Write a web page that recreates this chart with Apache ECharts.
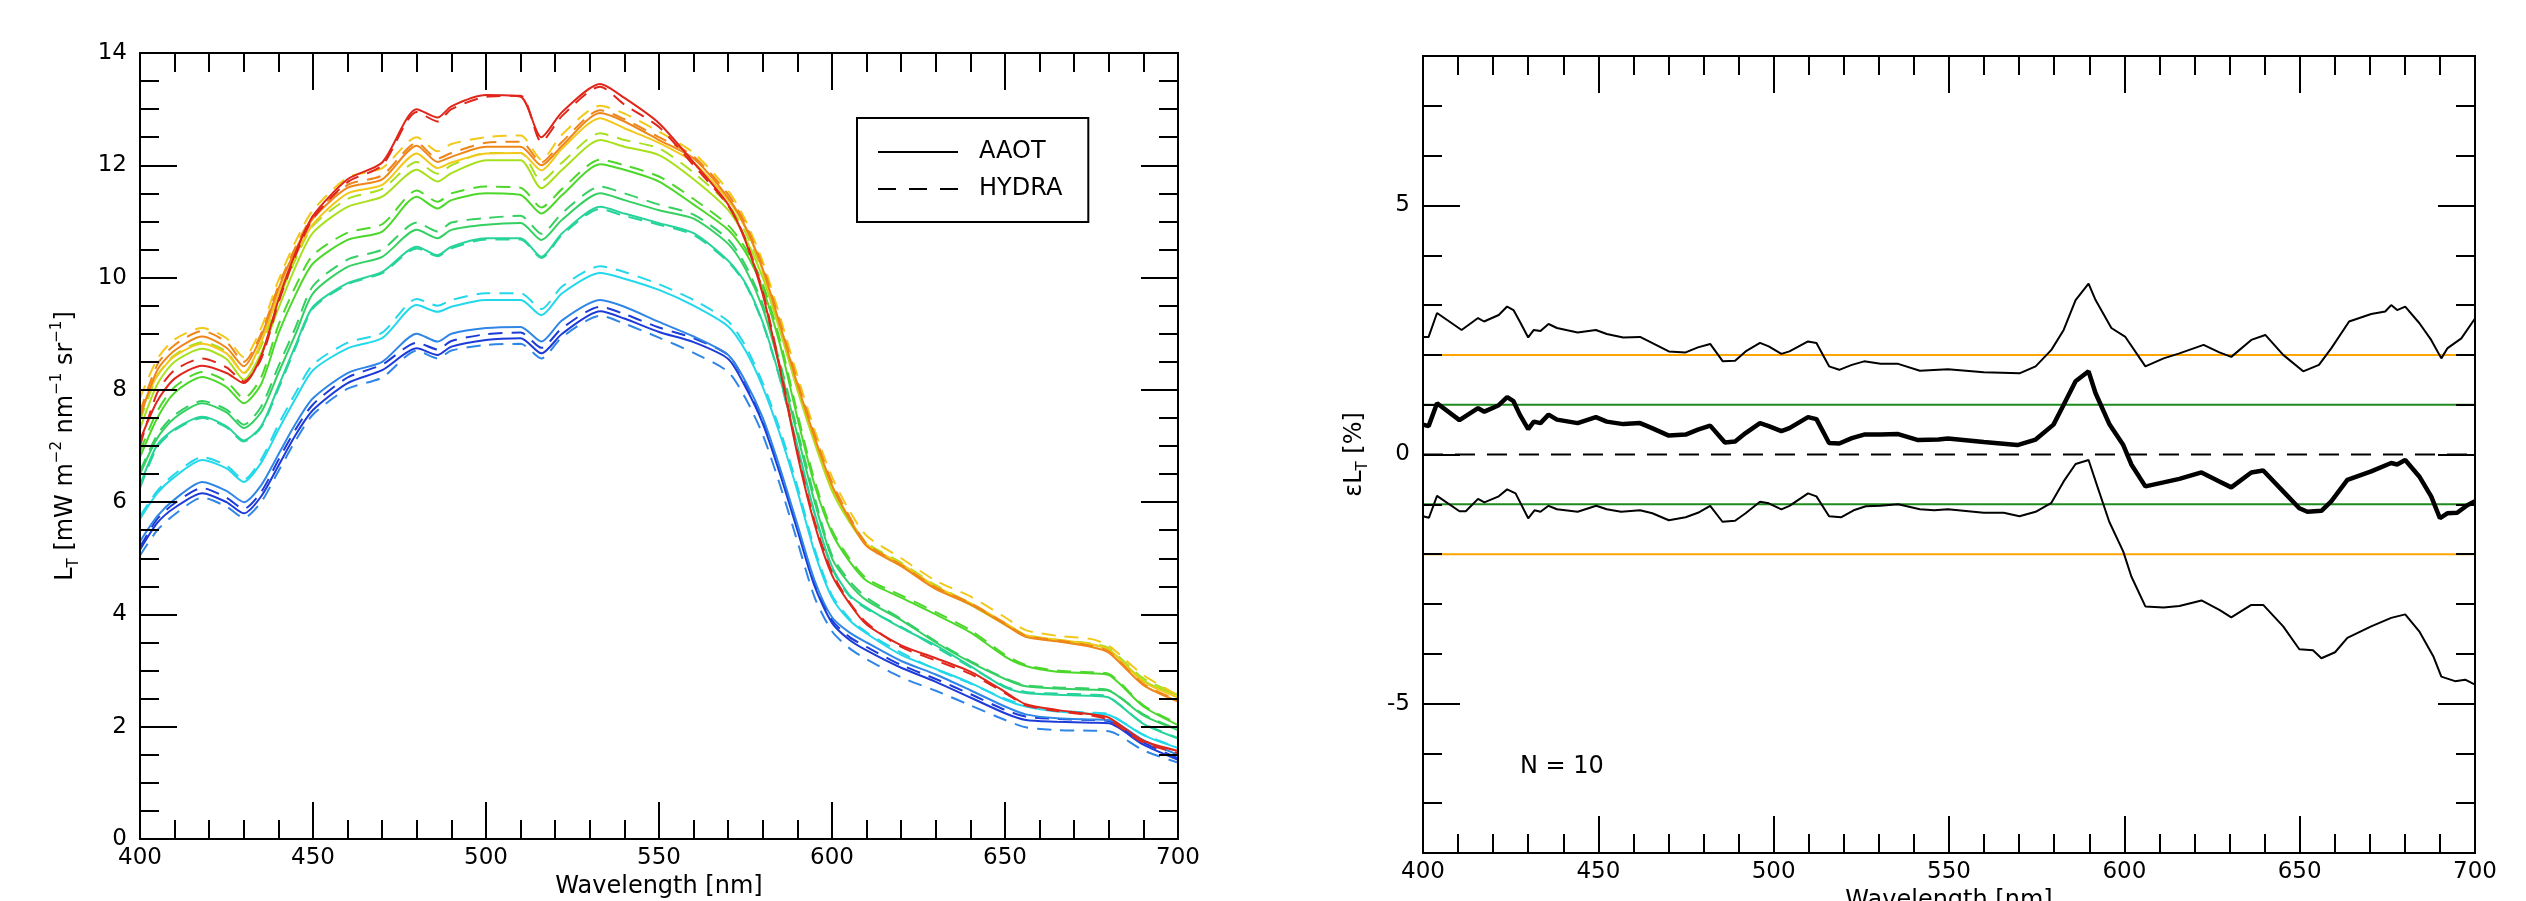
<!DOCTYPE html>
<html>
<head>
<meta charset="utf-8">
<title>AAOT / HYDRA L_T</title>
<script src="https://cdn.jsdelivr.net/npm/echarts@6.0.0/dist/echarts.min.js"></script>
<style>
    html, body { margin: 0; padding: 0; background: #fff; }
    #chart { width: 2526px; height: 901px; }
</style>
</head>
<body>
<div id="chart"></div>
<script>
var FONT = "DejaVu Sans";

// wavelength grid of the L_T spectra [nm]
var wl = [400, 405, 410, 418, 425, 430, 435, 440, 445, 450,
    460, 470, 480, 486, 490, 500, 510, 516, 522, 533,
    540, 550, 560, 570, 575, 580, 585, 590, 595, 600,
    605, 610, 620, 630, 640, 650, 656, 665, 675, 680,
    690, 700];

// L_T, AAOT (solid) and HYDRA (dashed), one pair per measurement
var redAaot = [7.1, 7.8, 8.2, 8.43, 8.3, 8.12, 8.6, 9.6, 10.45, 11.1,
    11.75, 12.05, 13.0, 12.85, 13.05, 13.25, 13.22, 12.5, 12.95, 13.45,
    13.2, 12.75, 12.05, 11.3, 10.65, 9.7, 8.35, 6.85, 5.6, 4.7,
    4.2, 3.82, 3.45, 3.22, 2.98, 2.62, 2.4, 2.3, 2.22, 2.16,
    1.75, 1.57];
var redHydra = [7.0, 7.95, 8.35, 8.56, 8.4, 8.15, 8.55, 9.55, 10.4, 11.05,
    11.7, 12.0, 12.95, 12.78, 13.0, 13.22, 13.24, 12.42, 12.88, 13.4,
    13.08, 12.68, 12.0, 11.28, 10.68, 9.75, 8.4, 6.9, 5.65, 4.75,
    4.22, 3.85, 3.42, 3.18, 2.94, 2.6, 2.38, 2.28, 2.2, 2.12,
    1.72, 1.53];
var orangeAaot = [7.5, 8.35, 8.7, 8.95, 8.75, 8.42, 8.95, 9.8, 10.5, 11.05,
    11.6, 11.75, 12.35, 12.06, 12.15, 12.33, 12.33, 12.0, 12.35, 12.93,
    12.78, 12.45, 12.12, 11.42, 10.9, 10.15, 9.15, 8.1, 7.15, 6.3,
    5.7, 5.22, 4.86, 4.45, 4.18, 3.82, 3.6, 3.52, 3.42, 3.32,
    2.74, 2.45];
var orangeHydra = [7.6, 8.45, 8.8, 9.05, 8.85, 8.5, 9.0, 9.85, 10.55, 11.1,
    11.65, 11.82, 12.4, 12.12, 12.22, 12.4, 12.42, 12.05, 12.42, 12.98,
    12.82, 12.5, 12.16, 11.48, 10.95, 10.2, 9.2, 8.15, 7.2, 6.35,
    5.75, 5.26, 4.88, 4.48, 4.2, 3.84, 3.62, 3.54, 3.44, 3.34,
    2.76, 2.47];
var yellowAaot = [7.6, 8.25, 8.6, 8.82, 8.65, 8.3, 8.85, 9.7, 10.4, 10.95,
    11.5, 11.65, 12.21, 11.95, 12.05, 12.21, 12.22, 11.91, 12.3, 12.84,
    12.66, 12.4, 12.05, 11.38, 10.88, 10.12, 9.12, 8.07, 7.12, 6.28,
    5.72, 5.25, 4.9, 4.5, 4.2, 3.85, 3.63, 3.55, 3.47, 3.37,
    2.8, 2.52];
var yellowHydra = [7.85, 8.55, 8.9, 9.1, 8.92, 8.58, 9.1, 9.95, 10.65, 11.2,
    11.78, 11.95, 12.5, 12.25, 12.38, 12.5, 12.53, 12.1, 12.55, 13.06,
    12.92, 12.6, 12.22, 11.55, 11.02, 10.28, 9.3, 8.25, 7.28, 6.45,
    5.85, 5.4, 5.0, 4.6, 4.32, 3.95, 3.72, 3.62, 3.56, 3.44,
    2.92, 2.56];
var limeAaot = [7.3, 8.1, 8.5, 8.73, 8.55, 8.18, 8.65, 9.45, 10.2, 10.8,
    11.26, 11.44, 11.92, 11.71, 11.86, 12.09, 12.09, 11.59, 11.92, 12.45,
    12.33, 12.18, 11.75, 11.2, 10.7, 10.0, 9.05, 8.0, 7.05, 6.2,
    5.65, 5.24, 4.88, 4.48, 4.17, 3.82, 3.61, 3.53, 3.46, 3.38,
    2.82, 2.56];
var limeHydra = [7.45, 8.25, 8.62, 8.85, 8.68, 8.3, 8.78, 9.6, 10.33, 10.92,
    11.4, 11.58, 12.06, 11.85, 12.0, 12.22, 12.22, 11.72, 12.05, 12.57,
    12.45, 12.3, 11.87, 11.3, 10.8, 10.1, 9.15, 8.1, 7.12, 6.26,
    5.7, 5.28, 4.92, 4.52, 4.2, 3.84, 3.64, 3.55, 3.48, 3.4,
    2.86, 2.58];
var greenAaot = [6.8, 7.5, 7.95, 8.23, 8.05, 7.76, 8.1, 9.0, 9.7, 10.25,
    10.67, 10.82, 11.44, 11.23, 11.38, 11.5, 11.47, 11.14, 11.47, 12.02,
    11.92, 11.71, 11.3, 10.85, 10.45, 9.8, 8.8, 7.5, 6.3, 5.45,
    4.95, 4.6, 4.3, 4.0, 3.68, 3.25, 3.08, 2.98, 2.95, 2.92,
    2.36, 2.03];
var greenHydra = [6.9, 7.62, 8.05, 8.32, 8.15, 7.85, 8.22, 9.15, 9.85, 10.4,
    10.8, 10.95, 11.55, 11.35, 11.5, 11.62, 11.6, 11.25, 11.58, 12.1,
    12.0, 11.8, 11.4, 10.93, 10.52, 9.88, 8.88, 7.58, 6.38, 5.5,
    5.0, 4.64, 4.34, 4.04, 3.72, 3.28, 3.1, 3.0, 2.97, 2.94,
    2.38, 2.05];
var green2Aaot = [6.5, 7.14, 7.5, 7.76, 7.6, 7.32, 7.6, 8.3, 9.0, 9.72,
    10.19, 10.37, 10.85, 10.7, 10.85, 10.94, 10.97, 10.67, 11.03, 11.5,
    11.38, 11.2, 11.05, 10.6, 10.15, 9.45, 8.4, 7.2, 6.0, 5.0,
    4.55, 4.25, 3.9, 3.5, 3.15, 2.85, 2.72, 2.68, 2.66, 2.64,
    2.2, 1.94];
var green2Hydra = [6.55, 7.2, 7.55, 7.8, 7.65, 7.38, 7.7, 8.42, 9.12, 9.85,
    10.32, 10.5, 10.98, 10.82, 10.98, 11.06, 11.1, 10.78, 11.15, 11.62,
    11.5, 11.3, 11.12, 10.68, 10.22, 9.52, 8.48, 7.28, 6.08, 5.05,
    4.6, 4.3, 3.92, 3.52, 3.17, 2.86, 2.74, 2.7, 2.68, 2.65,
    2.22, 1.95];
var tealAaot = [6.3, 7.02, 7.3, 7.52, 7.35, 7.1, 7.35, 8.06, 8.8, 9.48,
    9.9, 10.1, 10.55, 10.4, 10.55, 10.7, 10.7, 10.37, 10.79, 11.26,
    11.14, 10.97, 10.79, 10.3, 9.9, 9.2, 8.2, 7.0, 5.8, 4.85,
    4.35, 4.12, 3.76, 3.45, 3.08, 2.7, 2.6, 2.57, 2.55, 2.52,
    2.05, 1.79];
var tealHydra = [6.25, 6.98, 7.28, 7.5, 7.33, 7.08, 7.33, 8.02, 8.76, 9.45,
    9.88, 10.08, 10.52, 10.38, 10.52, 10.68, 10.68, 10.35, 10.76, 11.22,
    11.1, 10.94, 10.76, 10.28, 9.88, 9.18, 8.18, 6.98, 5.78, 4.82,
    4.33, 4.1, 3.78, 3.42, 3.06, 2.72, 2.62, 2.59, 2.57, 2.53,
    2.06, 1.8];
var cyanAaot = [5.7, 6.16, 6.45, 6.75, 6.6, 6.36, 6.7, 7.29, 7.85, 8.35,
    8.74, 8.92, 9.51, 9.39, 9.48, 9.6, 9.6, 9.33, 9.72, 10.08,
    9.98, 9.78, 9.5, 9.13, 8.7, 8.05, 7.2, 6.2, 5.1, 4.3,
    3.9, 3.66, 3.28, 3.03, 2.78, 2.48, 2.36, 2.27, 2.23, 2.21,
    1.85, 1.62];
var cyanHydra = [5.75, 6.2, 6.5, 6.8, 6.65, 6.4, 6.76, 7.38, 7.95, 8.45,
    8.84, 9.02, 9.62, 9.5, 9.6, 9.72, 9.72, 9.44, 9.84, 10.2,
    10.1, 9.88, 9.6, 9.22, 8.78, 8.12, 7.28, 6.28, 5.16, 4.34,
    3.93, 3.68, 3.32, 3.02, 2.77, 2.5, 2.38, 2.29, 2.25, 2.22,
    1.86, 1.63];
var lightBlueAaot = [5.3, 5.75, 6.05, 6.36, 6.2, 6.0, 6.3, 6.85, 7.4, 7.85,
    8.3, 8.5, 9.0, 8.86, 9.0, 9.1, 9.12, 8.86, 9.24, 9.6,
    9.48, 9.21, 8.95, 8.62, 8.15, 7.5, 6.6, 5.6, 4.6, 3.95,
    3.68, 3.5, 3.17, 2.93, 2.65, 2.36, 2.22, 2.15, 2.13, 2.12,
    1.76, 1.5];
var lightBlueHydra = [5.05, 5.5, 5.78, 6.08, 5.92, 5.72, 6.0, 6.55, 7.1, 7.56,
    8.02, 8.22, 8.7, 8.56, 8.7, 8.8, 8.82, 8.56, 8.94, 9.32,
    9.18, 8.93, 8.66, 8.32, 7.85, 7.2, 6.3, 5.3, 4.3, 3.7,
    3.4, 3.2, 2.88, 2.64, 2.38, 2.12, 1.99, 1.94, 1.93, 1.92,
    1.58, 1.36];
var darkBlueAaot = [5.15, 5.63, 5.9, 6.16, 6.0, 5.8, 6.1, 6.65, 7.2, 7.64,
    8.12, 8.35, 8.74, 8.62, 8.77, 8.89, 8.92, 8.65, 9.0, 9.4,
    9.27, 9.03, 8.85, 8.55, 8.05, 7.4, 6.5, 5.5, 4.5, 3.85,
    3.55, 3.36, 3.05, 2.8, 2.52, 2.24, 2.12, 2.09, 2.07, 2.06,
    1.68, 1.41];
var darkBlueHydra = [5.2, 5.7, 5.98, 6.25, 6.08, 5.88, 6.18, 6.75, 7.3, 7.74,
    8.22, 8.45, 8.84, 8.72, 8.87, 8.99, 9.02, 8.75, 9.1, 9.48,
    9.35, 9.11, 8.92, 8.62, 8.12, 7.46, 6.56, 5.56, 4.56, 3.9,
    3.6, 3.42, 3.1, 2.85, 2.58, 2.3, 2.18, 2.14, 2.12, 2.1,
    1.72, 1.44];

// relative difference eps L_T [%]: upper / mean / lower curves
var upWl = [400, 401.6, 404, 411, 415.7, 417.4, 421.6, 424, 425.8, 427.6,
    430, 431.6, 433.5, 435.8, 438.2, 444.1, 449.3, 452.4, 457.1, 461.9,
    465.3, 470.1, 474.9, 478.4, 481.9, 485.5, 489, 492, 496.1, 498.6,
    502.2, 504.5, 509.8, 512.2, 515.8, 518.7, 522.3, 525.8, 530.5, 535.5,
    541.7, 549.7, 559.9, 570.1, 574.7, 579.2, 582.7, 586.1, 589.8, 591.8,
    596.3, 600.3, 606, 611.2, 615.7, 622.6, 627.1, 630.5, 636.2, 640.2,
    645.3, 651, 655.5, 659, 664.1, 670.4, 674.4, 676.1, 677.8, 680.1,
    684.1, 687.5, 690.4, 692.1, 696.1, 700];
var errUp = [2.36, 2.36, 2.84, 2.5, 2.74, 2.67, 2.8, 2.97, 2.9, 2.67,
    2.35, 2.5, 2.48, 2.62, 2.54, 2.45, 2.5, 2.42, 2.35, 2.36,
    2.24, 2.07, 2.05, 2.15, 2.22, 1.87, 1.88, 2.07, 2.24, 2.17,
    2.02, 2.07, 2.27, 2.24, 1.77, 1.70, 1.80, 1.87, 1.82, 1.82,
    1.68, 1.71, 1.65, 1.63, 1.77, 2.1, 2.5, 3.1, 3.43, 3.1,
    2.54, 2.36, 1.77, 1.93, 2.03, 2.2, 2.05, 1.96, 2.3, 2.4,
    2.0, 1.67, 1.80, 2.13, 2.67, 2.82, 2.87, 3.0, 2.9, 2.97,
    2.64, 2.3, 1.93, 2.13, 2.33, 2.73];

var meanWl = [400, 401.6, 404, 410.4, 415.7, 417.5, 421.6, 424, 425.8, 427.6,
    430, 431.6, 433.5, 435.8, 438.2, 444.1, 449.3, 452.4, 457.1, 461.9,
    465.3, 470.1, 474.9, 478.4, 481.9, 486.1, 489, 492, 496.1, 498.6,
    502.2, 504.5, 509.8, 512.2, 515.8, 518.7, 522.3, 525.8, 530.5, 535.5,
    541.2, 547, 549.7, 559.9, 569.5, 574.7, 579.8, 582.7, 586.1, 589.8,
    591.8, 595.8, 599.7, 602, 606, 611.2, 615.7, 622, 627.1, 630.5,
    636.2, 639.6, 645.3, 649.9, 652.2, 656.2, 659, 663.6, 670.4, 676.1,
    677.8, 680.1, 684.1, 687.5, 690, 692.1, 694.9, 697.8, 700];
var errMean = [0.6, 0.57, 1.03, 0.69, 0.93, 0.86, 0.99, 1.15, 1.07, 0.8,
    0.51, 0.66, 0.63, 0.8, 0.7, 0.63, 0.75, 0.66, 0.61, 0.63,
    0.53, 0.38, 0.4, 0.5, 0.58, 0.24, 0.26, 0.43, 0.63, 0.57,
    0.47, 0.53, 0.75, 0.71, 0.23, 0.22, 0.33, 0.4, 0.4, 0.41,
    0.29, 0.3, 0.32, 0.25, 0.19, 0.3, 0.6, 1.0, 1.47, 1.67,
    1.23, 0.6, 0.19, -0.2, -0.64, -0.56, -0.49, -0.36, -0.54, -0.66,
    -0.36, -0.32, -0.74, -1.08, -1.15, -1.13, -0.94, -0.51, -0.34, -0.17,
    -0.2, -0.11, -0.44, -0.84, -1.28, -1.18, -1.17, -1.02, -0.94];

var lowWl = [400, 401.7, 404, 410.4, 412.2, 415.7, 417.5, 421.6, 424, 426.4,
    430, 431.8, 433.5, 435.8, 438.2, 444.1, 449.4, 452.4, 456.5, 461.9,
    465.4, 470.1, 474.9, 478.4, 481.9, 485.4, 489, 492, 496.1, 498.6,
    502.2, 504.5, 509.8, 512.2, 515.8, 519.2, 522.8, 526.3, 530.4, 535.5,
    541.7, 545.8, 549.7, 559.9, 565.6, 570.1, 574.7, 579.2, 582.7, 586.1,
    589.8, 592.3, 595.7, 599.7, 602, 606, 611.2, 615.7, 622, 627.1,
    630.5, 636.2, 639.6, 645.3, 649.9, 653.8, 656.2, 660.1, 663.6, 670.4,
    676.1, 680.1, 684.1, 688.1, 690.4, 694.3, 697.2, 700];
var errLow = [-1.24, -1.27, -0.83, -1.14, -1.14, -0.89, -0.96, -0.84, -0.70, -0.78,
    -1.28, -1.12, -1.15, -1.03, -1.1, -1.15, -1.03, -1.1, -1.15, -1.12,
    -1.18, -1.32, -1.26, -1.17, -1.03, -1.35, -1.33, -1.18, -0.95, -0.98,
    -1.1, -1.03, -0.78, -0.84, -1.24, -1.26, -1.12, -1.04, -1.03, -1.0,
    -1.1, -1.12, -1.1, -1.17, -1.17, -1.24, -1.15, -0.97, -0.54, -0.19,
    -0.11, -0.64, -1.35, -1.95, -2.45, -3.05, -3.07, -3.04, -2.93, -3.12,
    -3.27, -3.02, -3.02, -3.45, -3.91, -3.93, -4.09, -3.97, -3.68, -3.45,
    -3.28, -3.21, -3.55, -4.05, -4.46, -4.55, -4.52, -4.62];

// horizontal reference levels on the error panel
var refLevels = [2, 1, 0, -1, -2];
var refColors = ["#ffa500", "#1f8a1f", "#000000", "#1f8a1f", "#ffa500"];
var refRange = [400, 700];

var spectra = [
    {color: "#1c3bd9", aaot: darkBlueAaot, hydra: darkBlueHydra},
    {color: "#2f86e6", aaot: lightBlueAaot, hydra: lightBlueHydra},
    {color: "#22d8ea", aaot: cyanAaot, hydra: cyanHydra},
    {color: "#26d49a", aaot: tealAaot, hydra: tealHydra},
    {color: "#34d062", aaot: green2Aaot, hydra: green2Hydra},
    {color: "#4cd82a", aaot: greenAaot, hydra: greenHydra},
    {color: "#a8e01e", aaot: limeAaot, hydra: limeHydra},
    {color: "#f2c81a", aaot: yellowAaot, hydra: yellowHydra},
    {color: "#ee861a", aaot: orangeAaot, hydra: orangeHydra},
    {color: "#e0261b", aaot: redAaot, hydra: redHydra}
];

function pairs(xs, ys) {
    var out = [];
    for (var i = 0; i < xs.length; i++) {
        out.push([xs[i], ys[i]]);
    }
    return out;
}

var blackLine = {color: "#000", width: 2};
var tickLabel = {fontFamily: FONT, fontSize: 23, color: "#000"};

// one framed wavelength axis (bottom carries labels, top only ticks)
function wlAxis(grid, pos, withLabel) {
    return {
        type: "value", gridIndex: grid, position: pos, z: 5,
        min: 400, max: 700, interval: 50,
        axisLine: {show: true, onZero: false, lineStyle: blackLine},
        axisTick: {show: true, inside: true, length: 37, lineStyle: blackLine},
        minorTick: {show: true, splitNumber: 5, length: 19, lineStyle: blackLine},
        splitLine: {show: false},
        axisLabel: Object.assign({show: withLabel, margin: 8}, tickLabel),
        name: withLabel ? "Wavelength [nm]" : "",
        nameLocation: "middle",
        nameGap: 33,
        nameTextStyle: {fontFamily: FONT, fontSize: 24, color: "#000"}
    };
}

// framed value axis; customTicks gives the long labelled ticks only
function valAxis(grid, pos, min, max, interval, opts) {
    var ax = {
        type: "value", gridIndex: grid, position: pos, z: 5,
        min: min, max: max, interval: interval,
        axisLine: {show: true, onZero: false, lineStyle: blackLine},
        axisTick: {show: true, inside: true, length: opts.tickLen, lineStyle: blackLine},
        splitLine: {show: false},
        axisLabel: {show: false}
    };
    if (opts.minorSplit) {
        ax.minorTick = {show: true, splitNumber: opts.minorSplit, length: 19, lineStyle: blackLine};
    }
    if (opts.customTicks) {
        ax.z = 6;
        ax.axisTick.customValues = opts.customTicks;
    }
    if (opts.label) {
        ax.axisLabel = Object.assign({show: true, margin: 13}, tickLabel);
        if (opts.customTicks) {
            ax.axisLabel.customValues = opts.customTicks;
        }
    }
    return ax;
}

var nameRich = {
    n: {fontFamily: FONT, fontSize: 24, lineHeight: 32, verticalAlign: "middle"},
    s: {fontFamily: FONT, fontSize: 15, lineHeight: 32, verticalAlign: "bottom"},
    p: {fontFamily: FONT, fontSize: 15, lineHeight: 32, verticalAlign: "top"}
};

var yLeft = valAxis(0, "left", 0, 14, 2, {tickLen: 37, minorSplit: 4, label: true});
yLeft.name = "{n|L}{s|T}{n| [mW m}{p|\u22122}{n| nm}{p|\u22121}{n| sr}{p|\u22121}{n|]}";
yLeft.nameLocation = "middle";
yLeft.nameGap = 58;
yLeft.nameTextStyle = {fontFamily: FONT, fontSize: 24, color: "#000", rich: nameRich};

var yErr = valAxis(1, "left", -8, 8, 1, {tickLen: 37, customTicks: [-5, 0, 5], label: true});
yErr.name = "{n|\u03b5L}{s|T}{n| [%]}";
yErr.nameLocation = "middle";
yErr.nameGap = 52;
yErr.nameTextStyle = {fontFamily: FONT, fontSize: 24, color: "#000", rich: nameRich};

var yAxes = [
    yLeft,
    valAxis(0, "right", 0, 14, 2, {tickLen: 37, minorSplit: 4}),
    yErr,
    valAxis(1, "left", -8, 8, 1, {tickLen: 19}),
    valAxis(1, "right", -8, 8, 1, {tickLen: 37, customTicks: [-5, 0, 5]}),
    valAxis(1, "right", -8, 8, 1, {tickLen: 19})
];

var xAxes = [
    wlAxis(0, "bottom", true),
    wlAxis(0, "top", false),
    wlAxis(1, "bottom", true),
    wlAxis(1, "top", false)
];

var series = [];

// left panel: radiance spectra
spectra.forEach(function (sp) {
    series.push({
        type: "line", xAxisIndex: 0, yAxisIndex: 0,
        data: pairs(wl, sp.hydra),
        symbol: "none", smooth: 0.25, silent: true,
        lineStyle: {color: sp.color, width: 2, type: [14, 9]}
    });
    series.push({
        type: "line", xAxisIndex: 0, yAxisIndex: 0,
        data: pairs(wl, sp.aaot),
        symbol: "none", smooth: 0.25, silent: true,
        lineStyle: {color: sp.color, width: 2}
    });
});

// legend entries only
series.push({
    name: "AAOT", type: "line", xAxisIndex: 0, yAxisIndex: 0, data: [],
    symbol: "none", symbolSize: 0, itemStyle: {color: "#000", opacity: 0},
    lineStyle: {color: "#000", width: 2}
});
series.push({
    name: "HYDRA", type: "line", xAxisIndex: 0, yAxisIndex: 0, data: [],
    symbol: "none", symbolSize: 0, itemStyle: {color: "#000", opacity: 0},
    lineStyle: {color: "#000", width: 2, type: [18, 13]}
});

// right panel: reference levels
refLevels.forEach(function (lv, i) {
    series.push({
        type: "line", xAxisIndex: 2, yAxisIndex: 2,
        data: [[refRange[0], lv], [refRange[1], lv]],
        symbol: "none", silent: true,
        lineStyle: {color: refColors[i], width: 2, type: lv === 0 ? [20, 12] : "solid"}
    });
});

series.push({
    type: "line", xAxisIndex: 2, yAxisIndex: 2, data: pairs(upWl, errUp),
    symbol: "none", silent: true, lineStyle: {color: "#000", width: 2}
});
series.push({
    type: "line", xAxisIndex: 2, yAxisIndex: 2, data: pairs(lowWl, errLow),
    symbol: "none", silent: true, lineStyle: {color: "#000", width: 2}
});
series.push({
    type: "line", xAxisIndex: 2, yAxisIndex: 2, data: pairs(meanWl, errMean),
    symbol: "none", silent: true, lineStyle: {color: "#000", width: 4.5}
});

var chart = echarts.init(document.getElementById("chart"), null, {renderer: "canvas"});

chart.setOption({
    backgroundColor: "#fff",
    animation: false,
    textStyle: {fontFamily: FONT},
    grid: [
        {left: 140, top: 53, width: 1038, height: 786, containLabel: false, outerBoundsMode: "none"},
        {left: 1423, top: 56, width: 1052, height: 797, containLabel: false, outerBoundsMode: "none"}
    ],
    legend: {
        data: ["AAOT", "HYDRA"],
        orient: "vertical",
        left: 857,
        top: 118,
        padding: [22, 26, 21, 20],
        itemWidth: 80,
        itemHeight: 26,
        itemGap: 13,
        borderColor: "#000",
        borderWidth: 2,
        selectedMode: false,
        itemStyle: {opacity: 0, borderWidth: 0},
        textStyle: {fontFamily: FONT, fontSize: 24, color: "#000", padding: [0, 0, 0, 16]}
    },
    graphic: [
        {
            type: "text", left: 1520, top: 755,
            style: {text: "N = 10", font: "24px " + FONT, fill: "#000"}
        }
    ],
    xAxis: xAxes,
    yAxis: yAxes,
    series: series
});
</script>
</body>
</html>
